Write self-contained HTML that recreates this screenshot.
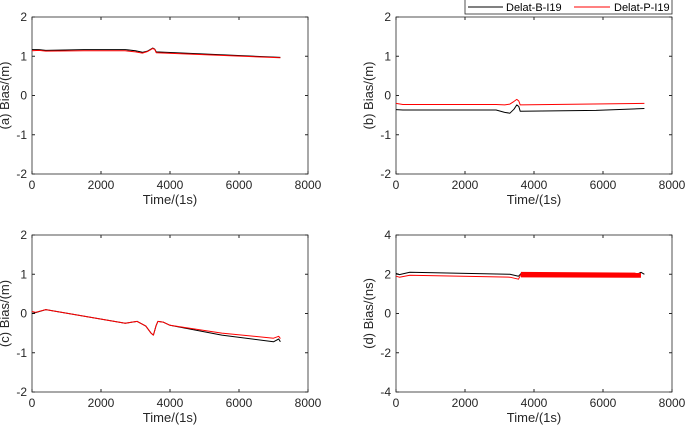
<!DOCTYPE html>
<html><head><meta charset="utf-8"><style>
body{margin:0;background:#fff;}
svg{display:block;font-family:"Liberation Sans",Arial,sans-serif;}
</style></head><body>
<svg id="s" width="685" height="428" xmlns="http://www.w3.org/2000/svg"></svg>
<script>
const s=document.getElementById('s');let h='';
const P=[
 {L:32,T:17,lab:'(a) Bias/(m)',ymin:-2,ymax:2,step:1,
  k:[[0,1.17],[200,1.17],[400,1.15],[1500,1.17],[2700,1.17],[3000,1.14],[3200,1.1],[3350,1.13],[3500,1.21],[3560,1.18],[3600,1.11],[7200,0.97]],
  r:[[0,1.14],[200,1.15],[400,1.13],[1500,1.14],[2700,1.14],[3000,1.11],[3200,1.08],[3350,1.12],[3500,1.2],[3560,1.17],[3600,1.09],[7200,0.96]]},
 {L:396,T:17,lab:'(b) Bias/(m)',ymin:-2,ymax:2,step:1,
  k:[[0,-0.36],[200,-0.37],[2900,-0.37],[3150,-0.43],[3300,-0.45],[3420,-0.35],[3500,-0.24],[3560,-0.28],[3600,-0.4],[5800,-0.38],[7200,-0.33]],
  r:[[0,-0.2],[200,-0.23],[2900,-0.23],[3150,-0.24],[3300,-0.22],[3420,-0.15],[3500,-0.1],[3560,-0.14],[3600,-0.24],[7200,-0.2]]},
 {L:32,T:235,lab:'(c) Bias/(m)',ymin:-2,ymax:2,step:1,
  k:[[0,0],[100,0.02],[400,0.1],[2700,-0.25],[2900,-0.22],[3050,-0.2],[3300,-0.32],[3450,-0.5],[3520,-0.55],[3600,-0.3],[3650,-0.2],[3800,-0.22],[4000,-0.3],[5500,-0.55],[7000,-0.72],[7150,-0.65],[7200,-0.72]],
  r:[[0,0.05],[100,0.03],[400,0.1],[2700,-0.25],[2900,-0.22],[3050,-0.2],[3300,-0.32],[3450,-0.5],[3520,-0.55],[3600,-0.3],[3650,-0.2],[3800,-0.22],[4000,-0.3],[5500,-0.5],[7000,-0.63],[7150,-0.58],[7200,-0.64]]},
 {L:396,T:235,lab:'(d) Bias/(ns)',ymin:-4,ymax:4,step:2,
  k:[[0,2.05],[100,1.98],[400,2.1],[3300,2.0],[3550,1.9],[3650,2.08],[7000,2.02],[7100,2.1],[7200,2.0]],
  r:[[0,1.9],[100,1.85],[400,1.95],[3300,1.85],[3550,1.75],[3620,2.0]],band:true}
];
const W=276,H=157;
for(const p of P){
 const X=t=>p.L+t/8000*W, Y=v=>p.T+(p.ymax-v)/(p.ymax-p.ymin)*H;
 h+=`<rect x="${p.L}" y="${p.T}" width="${W}" height="${H}" fill="none" stroke="#262626" stroke-width="0.8"/>`;
 for(let t=0;t<=8000;t+=2000){const x=X(t);
  h+=`<line x1="${x}" y1="${p.T+H}" x2="${x}" y2="${p.T+H-3}" stroke="#262626"/><line x1="${x}" y1="${p.T}" x2="${x}" y2="${p.T+3}" stroke="#262626"/>`;
  h+=`<text x="${x}" y="${p.T+H+15}" font-size="12" text-anchor="middle" fill="#262626">${t}</text>`;}
 for(let v=p.ymin;v<=p.ymax;v+=p.step){const y=Y(v);
  h+=`<line x1="${p.L}" y1="${y}" x2="${p.L+3}" y2="${y}" stroke="#262626"/><line x1="${p.L+W}" y1="${y}" x2="${p.L+W-3}" y2="${y}" stroke="#262626"/>`;
  h+=`<text x="${p.L-5}" y="${y+4}" font-size="12" text-anchor="end" fill="#262626">${v}</text>`;}
 h+=`<text x="${p.L+W/2}" y="${p.T+H+30}" font-size="13" text-anchor="middle" fill="#262626">Time/(1s)</text>`;
 h+=`<text transform="translate(${p.L-23},${p.T+H/2}) rotate(-90)" font-size="13" text-anchor="middle" fill="#262626">${p.lab}</text>`;
 const path=a=>a.map((q,i)=>(i?'L':'M')+X(q[0]).toFixed(1)+' '+Y(q[1]).toFixed(1)).join(' ');
 h+=`<path d="${path(p.k)}" fill="none" stroke="#000" stroke-width="1" stroke-linejoin="round"/>`;
 h+=`<path d="${path(p.r)}" fill="none" stroke="#f00" stroke-width="1" stroke-linejoin="round"/>`;
 if(p.band){h+=`<polygon points="${X(3620)},${Y(2.12)} ${X(7100)},${Y(2.08)} ${X(7100)},${Y(1.82)} ${X(3620)},${Y(1.84)}" fill="#f00"/>`;}
}
h+=`<rect x="465" y="-1" width="207" height="15" fill="#fff" stroke="#262626" stroke-width="0.8"/>`;
h+=`<line x1="468" y1="7" x2="503" y2="7" stroke="#000"/><text x="506" y="11" font-size="11" fill="#000">Delat-B-I19</text>`;
h+=`<line x1="574" y1="7" x2="610" y2="7" stroke="#f00"/><text x="614" y="11" font-size="11" fill="#000">Delat-P-I19</text>`;
s.innerHTML=h;
</script>
</body></html>
